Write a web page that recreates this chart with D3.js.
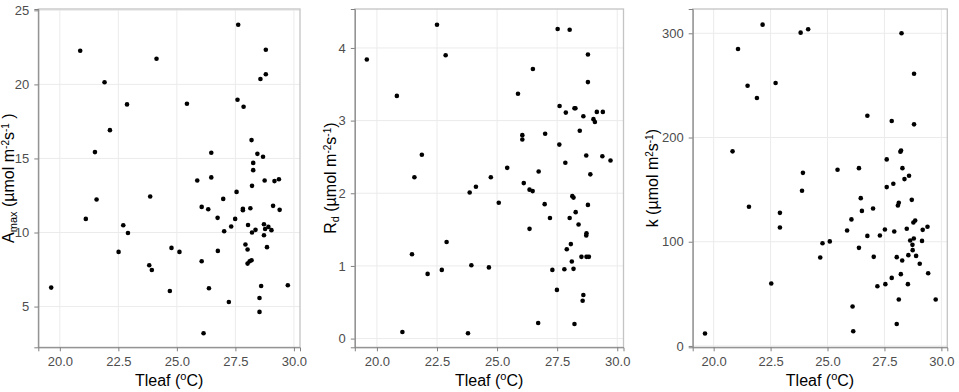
<!DOCTYPE html>
<html>
<head>
<meta charset="utf-8">
<script src="https://cdn.jsdelivr.net/npm/d3@7"></script>
<style>
  body { margin: 0; background: #fff; }
  svg { display: block; font-family: "Liberation Sans", Arial, sans-serif; }
</style>
</head>
<body>
<svg id="chart" width="959" height="392"></svg>
<script>
// Tleaf (deg C) and Amax for panel 1
const tleafA = [19.63, 20.87, 21.11, 21.50, 21.57, 21.91, 22.14, 22.51, 22.71, 22.87, 22.91, 23.82, 23.86, 23.93, 24.13,
  24.70, 24.77, 25.11, 25.43, 25.87, 26.06, 26.06, 26.14, 26.34, 26.37, 26.47, 26.47, 26.74, 26.75, 26.98, 27.02, 27.22,
  27.32, 27.49, 27.55, 27.59, 27.62, 27.82, 27.82, 27.85, 27.93, 28.02, 28.02, 28.04, 28.11, 28.14, 28.19, 28.19, 28.21,
  28.21, 28.26, 28.26, 28.36, 28.44, 28.53, 28.53, 28.57, 28.60, 28.68, 28.72, 28.72, 28.75, 28.77, 28.80, 28.80, 28.85,
  28.91, 29.04, 29.11, 29.17, 29.36, 29.39, 29.74];
const amax = [6.28, 22.27, 10.92, 15.43, 12.23, 20.14, 16.91, 8.69, 10.49, 18.65, 9.97, 7.79, 12.43, 7.47, 21.73,
  6.05, 8.96, 8.69, 18.69, 13.51, 8.06, 11.73, 3.20, 11.57, 6.24, 13.72, 15.38, 10.99, 8.76, 12.27, 10.09, 5.31,
  10.41, 10.92, 12.74, 18.96, 24.03, 11.60, 11.50, 18.49, 9.19, 8.85, 7.90, 10.51, 8.06, 11.64, 8.13, 16.24, 13.15,
  10.00, 14.21, 14.70, 10.18, 15.31, 5.58, 4.64, 20.36, 6.39, 15.11, 9.82, 10.56, 13.51, 10.24, 22.34, 20.68, 9.01,
  10.38, 10.16, 11.80, 13.47, 13.60, 11.53, 6.44];

// Tleaf and Rd for panel 2
const tleafR = [19.58, 20.83, 21.06, 21.46, 21.56, 21.87, 22.11, 22.50, 22.70, 22.86, 22.90, 23.79, 23.86, 23.93, 24.12,
  24.66, 24.74, 25.07, 25.42, 25.87, 26.05, 26.05, 26.11, 26.35, 26.48, 26.35, 26.49, 26.71, 26.73, 27.00, 26.98, 27.20,
  27.30, 27.49, 27.52, 27.59, 27.60, 27.80, 27.84, 27.86, 27.90, 28.02, 28.02, 28.07, 28.11, 28.13, 28.18, 28.18, 28.22,
  28.22, 28.26, 28.27, 28.39, 28.44, 28.51, 28.56, 28.59, 28.59, 28.71, 28.71, 28.72, 28.72, 28.82, 28.78, 28.78, 28.78,
  28.88, 29.01, 29.07, 29.15, 29.38, 29.40, 29.72];
const rd = [3.84, 3.34, 0.09, 1.16, 2.22, 2.53, 0.89, 4.32, 0.945, 3.90, 1.33, 0.073, 2.01, 1.01, 2.09,
  0.98, 2.22, 1.87, 2.35, 3.37, 2.80, 2.74, 2.14, 2.05, 2.03, 1.51, 3.71, 0.215, 2.30, 2.82, 1.85, 1.66,
  0.945, 0.67, 4.26, 2.67, 3.20, 0.955, 2.42, 3.11, 1.23, 4.25, 1.66, 1.30, 1.06, 1.96, 1.94, 0.96, 0.20,
  3.17, 3.17, 1.74, 1.57, 2.86, 1.125, 0.52, 0.60, 3.06, 2.52, 1.42, 1.45, 1.125, 1.125, 3.53, 3.91, 1.84,
  2.26, 3.02, 2.98, 3.12, 2.51, 3.12, 2.45];

// Tleaf and k for panel 3
const tleafK = [19.62, 20.83, 21.07, 21.49, 21.55, 21.90, 22.15, 22.53, 22.72, 22.91, 22.91, 23.82, 23.88, 23.92, 24.15,
  24.68, 24.78, 25.10, 25.44, 25.86, 26.05, 26.10, 26.13, 26.38, 26.38, 26.46, 26.51, 26.75, 26.75, 27.00, 27.03, 27.19,
  27.30, 27.52, 27.54, 27.60, 27.60, 27.82, 27.82, 27.89, 27.93, 28.04, 28.04, 28.09, 28.13, 28.13, 28.20, 28.23, 28.22,
  28.25, 28.28, 28.29, 28.38, 28.48, 28.53, 28.55, 28.58, 28.63, 28.70, 28.73, 28.74, 28.77, 28.79, 28.80, 28.80, 28.85,
  28.89, 29.05, 29.15, 29.18, 29.39, 29.42, 29.75];
const kval = [11.9, 186.7, 284.9, 249.7, 133.5, 237.9, 308.3, 59.9, 252.3, 127.7, 113.7, 300.6, 148.9, 166.1, 303.9,
  84.9, 98.6, 100.3, 169.0, 110.8, 121.4, 37.8, 14.1, 170.6, 94.1, 141.8, 129.6, 105.6, 220.9, 131.9, 85.5, 57.3,
  106.0, 111.8, 59.3, 152.4, 179.0, 65.3, 215.8, 155.6, 109.8, 85.2, 21.1, 134.8, 137.3, 44.6, 186.3, 187.6, 68.9,
  300.0, 82.0, 170.6, 160.1, 112.4, 59.3, 87.1, 163.3, 101.2, 140.2, 97.0, 91.9, 118.5, 103.1, 261.2, 212.6, 120.4,
  86.4, 78.8, 100.8, 111.4, 114.3, 69.8, 44.6];

const xTicks = [20, 22.5, 25, 27.5, 30];
const amaxTicks = [5, 10, 15, 20, 25];
const rdTicks = [0, 1, 2, 3, 4];
const kTicks = [0, 100, 200, 300];

const svg = d3.select("#chart");

const panels = [
  { x: tleafA, y: amax, yTicks: amaxTicks, yDomain: [2.25, 25.09], box: [38.3, 300, 9, 347.3], titleX: 14,
    yTitle: [["A", 0], ["max", -1], [" (µmol m", 0], ["-2", 1], ["s", 0], ["-1", 1], [" )", 0]] },
  { x: tleafR, y: rd, yTicks: rdTicks, yDomain: [-0.12, 4.536], box: [354.8, 623.5, 9, 347.3], titleX: 335.5,
    yTitle: [["R", 0], ["d", -1], [" (µmol m", 0], ["-2", 1], ["s", 0], ["-1", 1], [")", 0]] },
  { x: tleafK, y: kval, yTicks: kTicks, yDomain: [-1.3, 323.3], box: [692.7, 947.3, 9, 347.3], titleX: 658,
    yTitle: [["k (µmol m", 0], ["2", 1], ["s", 0], ["-1", 1], [")", 0]] }
];

// ggplot-ish panel: grid, border, axes, points
function drawPanel(p) {
  const [l, r, t, b] = p.box;
  const x = d3.scaleLinear().domain([19.08, 30.26]).range([l, r]);
  const y = d3.scaleLinear().domain(p.yDomain).range([b, t]);
  const g = svg.append("g");

  g.append("g").selectAll("line").data(xTicks).join("line")
    .attr("x1", d => x(d)).attr("x2", d => x(d)).attr("y1", t).attr("y2", b)
    .attr("stroke", "#ebebeb").attr("stroke-width", 1);
  g.append("g").selectAll("line").data(p.yTicks).join("line")
    .attr("x1", l).attr("x2", r).attr("y1", d => y(d)).attr("y2", d => y(d))
    .attr("stroke", "#ebebeb").attr("stroke-width", 1);

  g.append("rect").attr("x", l).attr("y", t).attr("width", r - l).attr("height", b - t)
    .attr("fill", "none").attr("stroke", "#c4c4c4").attr("stroke-width", 1.3);

  const xAxis = g.append("g").attr("transform", `translate(0,${b})`)
    .call(d3.axisBottom(x).tickValues(xTicks).tickFormat(d3.format(".1f")).tickSize(4).tickPadding(5));
  const yAxis = g.append("g").attr("transform", `translate(${l},0)`)
    .call(d3.axisLeft(y).tickValues(p.yTicks).tickFormat(d3.format("d")).tickSize(4).tickPadding(5));
  [xAxis, yAxis].forEach(a => {
    a.select(".domain").attr("stroke", "#808080");
    a.selectAll(".tick line").attr("stroke", "#808080");
    a.selectAll(".tick text").attr("fill", "#4d4d4d").style("font-size", "13px")
      .style("font-family", "'Liberation Sans', Arial, sans-serif");
  });

  g.append("g").selectAll("circle").data(p.x.map((v, i) => [v, p.y[i]])).join("circle")
    .attr("cx", d => x(d[0])).attr("cy", d => y(d[1])).attr("r", 2.3).attr("fill", "#000");

  // x title
  const xt = g.append("text").attr("x", (l + r) / 2).attr("y", 385.5)
    .attr("text-anchor", "middle").style("font-size", "16px").attr("fill", "#000");
  xt.append("tspan").text("Tleaf (");
  xt.append("tspan").text("o").style("font-size", "11px").attr("baseline-shift", "6px");
  xt.append("tspan").text("C)");

  // y title
  const yt = g.append("text").attr("transform", `translate(${p.titleX},${(t + b) / 2}) rotate(-90)`)
    .attr("text-anchor", "middle").style("font-size", "16px").attr("fill", "#000");
  p.yTitle.forEach(([s, k]) => {
    const ts = yt.append("tspan").text(s);
    if (k === 1) ts.style("font-size", "10px").attr("baseline-shift", "5px");
    if (k === -1) ts.style("font-size", "11px").attr("baseline-shift", "-3px");
  });
}

panels.forEach(drawPanel);
</script>
</body>
</html>
